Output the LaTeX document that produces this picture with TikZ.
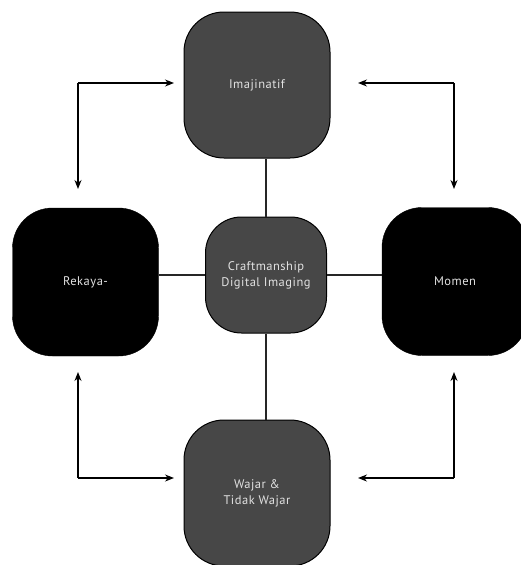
\documentclass[tikz,border=0pt]{standalone}
\usepackage{fontspec}
\setmainfont{PT Sans}[LetterSpace=4]
\usetikzlibrary{arrows.meta,calc}
\definecolor{boxgray}{HTML}{474747}
\definecolor{txt}{HTML}{E2E2E2}
\begin{document}
\begin{tikzpicture}[x=1pt,y=-1pt,
  graybox/.style={draw=black,line width=1pt,fill=boxgray,rounded corners=40pt,minimum width=146pt,minimum height=146pt,inner sep=0pt,text=txt,align=center,font=\fontsize{12.5}{16}\selectfont},
  blackbox/.style={draw=black,fill=black,rounded corners=40pt,minimum width=146pt,minimum height=148pt,inner sep=0pt,text=txt,align=center,font=\fontsize{12.5}{16}\selectfont},
  centerbox/.style={graybox,rounded corners=36pt,minimum width=121pt,minimum height=116pt},
  link/.style={draw=black!85,line width=1.1pt},
  arr/.style={draw=black,line width=1.3pt,-{Stealth[length=9pt,width=7pt]}}]
\useasboundingbox (0,0) rectangle (520,565);
\node[graybox] (top) at (257,85) {Imajinatif};
\node[centerbox] (mid) at (266,275) {Craftmanship\\Digital Imaging};
\node[blackbox] (left) at (85.5,282) {Rekaya-};
\node[blackbox] (right) at (455,281.5) {Momen};
\node[graybox] (bot) at (257,493) {Wajar \&\\Tidak Wajar};
\draw[link] (mid.north) -- (mid.north |- top.south);
\draw[link] (mid.south) -- (mid.south |- bot.north);
\draw[link] (mid.west) -- (mid.west -| left.east);
\draw[link] (mid.east) -- (mid.east -| right.west);
\coordinate (tl) at (78,83);
\coordinate (tr) at (454,83);
\coordinate (bl) at (78,478);
\coordinate (br) at (454,478);
\coordinate (tlx) at (174,83);
\coordinate (tly) at (78,189);
\coordinate (trx) at (358,83);
\coordinate (try) at (454,189);
\coordinate (blx) at (174,478);
\coordinate (bly) at (78,372);
\coordinate (brx) at (358,478);
\coordinate (bry) at (454,372);
\draw[arr] (tl) -- (tlx);
\draw[arr] (tl) -- (tly);
\draw[arr] (tr) -- (trx);
\draw[arr] (tr) -- (try);
\draw[arr] (bl) -- (blx);
\draw[arr] (bl) -- (bly);
\draw[arr] (br) -- (brx);
\draw[arr] (br) -- (bry);
\end{tikzpicture}
\end{document}
